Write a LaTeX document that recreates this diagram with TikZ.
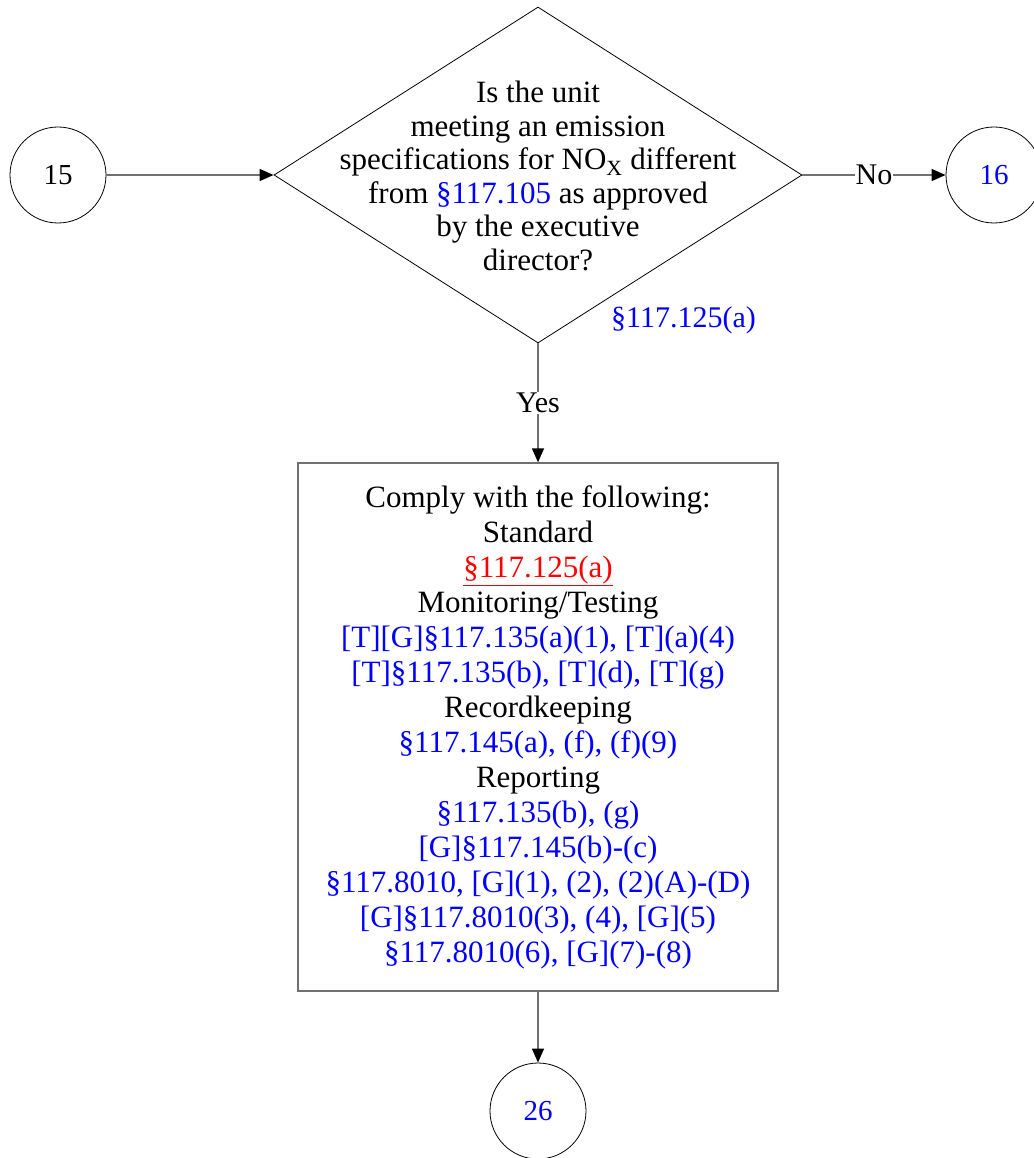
\documentclass[tikz,border=0pt]{standalone}
\usepackage{fontspec}
\setmainfont{Liberation Serif}
\usetikzlibrary{shapes.geometric, arrows.meta}
\definecolor{linegray}{RGB}{112,112,112}
\tikzstyle{connector} = [
    circle,
    minimum size = 96pt,
    inner sep = 0pt,
    draw = black,
    line width = 0.8pt,
    font = \fontsize{29}{33}\selectfont
]
\tikzstyle{decisionbox} = [
    diamond,
    minimum width = 528pt,
    minimum height = 336pt,
    inner sep = 0pt,
    draw = black,
    line width = 0.8pt
]
\tikzstyle{processbox} = [
    rectangle,
    minimum width = 480pt,
    minimum height = 528pt,
    text centered,
    draw = linegray,
    line width = 1.3pt
]
\tikzstyle{arrow} = [line width = 1.3pt, draw = linegray, ->,
    >={Triangle[length=14pt, width=12pt, color=black]}]
\tikzstyle{edgelabel} = [fill = white, inner sep = 1pt,
    font = \fontsize{30}{34}\selectfont]
\newcommand{\ruleref}[1]{\textcolor{blue}{#1}}

\begin{document}
\begin{tikzpicture}[x = 1pt, y = 1pt, node distance = 480pt]
    \useasboundingbox (0,0) rectangle (1033,-1158);

    \node (decision) [decisionbox] at (538,-175) {};

    \node
        (question)
        [align = center, font = \fontsize{31}{33.5}\selectfont]
        at ([yshift = -1pt]decision.center)
        {Is the unit\\ meeting an emission\\
         specifications for NO\textsubscript{X} different\\
         from \ruleref{§117.105} as approved\\ by the executive\\ director?};

    \node (page15) [connector, left of = decision] {15};

    \node (page16) [connector, right of = decision, xshift = -24pt]
        {\ruleref{16}};

    \node
        (citation)
        [anchor = west, text = blue, inner sep = 0pt,
         font = \fontsize{30}{34}\selectfont]
        at ([xshift = 73pt, yshift = 23pt]decision.south)
        {§117.125(a)};

    \node
        (comply)
        [
            processbox,
            below of = decision,
            yshift = -72pt,
            align = center,
            font = \fontsize{31}{35}\selectfont
        ]
        {
            Comply with the following:\\
            Standard\\
            \textcolor{red}{\underline{§117.125(a)}}\\
            Monitoring/Testing\\
            \ruleref{[T][G]§117.135(a)(1), [T](a)(4)}\\
            \ruleref{[T]§117.135(b), [T](d), [T](g)}\\
            Recordkeeping\\
            \ruleref{§117.145(a), (f), (f)(9)}\\
            Reporting\\
            \ruleref{§117.135(b), (g)}\\
            \ruleref{[G]§117.145(b)-(c)}\\
            \ruleref{§117.8010, [G](1), (2), (2)(A)-(D)}\\
            \ruleref{[G]§117.8010(3), (4), [G](5)}\\
            \ruleref{§117.8010(6), [G](7)-(8)}
        };

    \node (page26) [connector, below of = comply, yshift = 96pt]
        {\ruleref{26}};

    \draw [arrow] (page15) -- (decision);

    \draw [arrow]
        (decision) -- node[edgelabel]{No}(page16);

    \draw [arrow]
        (decision) -- node[edgelabel]{Yes}(comply);

    \draw [arrow] (comply) -- (page26);

\end{tikzpicture}
\end{document}
